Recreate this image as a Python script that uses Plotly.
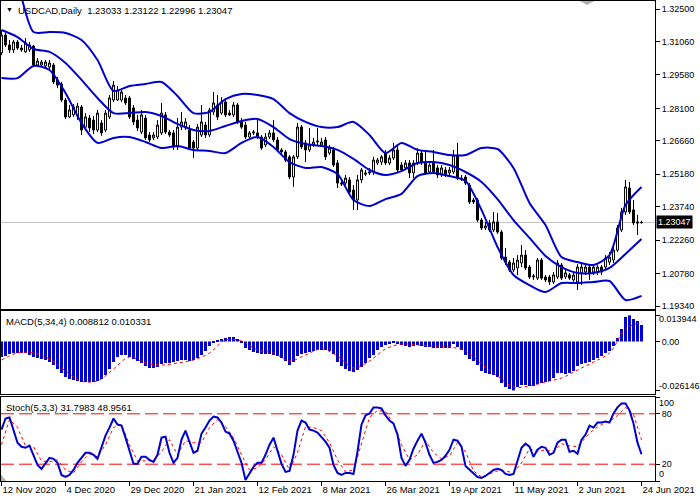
import plotly.graph_objects as go

# ---------------- data ----------------
title_text = "USDCAD,Daily  1.23033 1.23122 1.22996 1.23047"
macd_label = "MACD(5,34,4) 0.008812 0.010331"
stoch_label = "Stoch(5,3,3) 31.7983 48.9561"
last_price = 1.23047

date_labels = ["12 Nov 2020", "4 Dec 2020", "29 Dec 2020", "21 Jan 2021", "12 Feb 2021",
               "8 Mar 2021", "26 Mar 2021", "19 Apr 2021", "11 May 2021", "2 Jun 2021", "24 Jun 2021"]
date_label_bars = [0, 16, 32, 48, 64, 80, 96, 112, 128, 144, 160]

price_ticks = [1.3250, 1.3106, 1.2958, 1.2810, 1.2666, 1.2518, 1.2374, 1.2226, 1.2078, 1.1934]
macd_ticks = [0.013944, 0.0, -0.026146]
stoch_ticks = [100, 80, 20, 0]

opens = [1.3056, 1.3135, 1.3091, 1.3069, 1.3104, 1.3077, 1.3060, 1.3069, 1.3086, 1.3002,
         1.3002, 1.2998, 1.2993, 1.3002, 1.2936, 1.2918, 1.2847, 1.2772, 1.2781, 1.2776,
         1.2816, 1.2727, 1.2767, 1.2758, 1.2714, 1.2745, 1.2714, 1.2772, 1.2847, 1.2847,
         1.2847, 1.2856, 1.2856, 1.2812, 1.2758, 1.2705, 1.2767, 1.2692, 1.2679, 1.2683,
         1.2701, 1.2781, 1.2705, 1.2701, 1.2639, 1.2727, 1.2723, 1.2714, 1.2661, 1.2634,
         1.2692, 1.2736, 1.2692, 1.2794, 1.2825, 1.2789, 1.2838, 1.2789, 1.2781, 1.2825,
         1.2750, 1.2736, 1.2683, 1.2701, 1.2701, 1.2683, 1.2648, 1.2683, 1.2701, 1.2670,
         1.2626, 1.2617, 1.2595, 1.2506, 1.2595, 1.2727, 1.2657, 1.2626, 1.2648, 1.2661,
         1.2648, 1.2670, 1.2612, 1.2626, 1.2568, 1.2479, 1.2479, 1.2493, 1.2448, 1.2404,
         1.2493, 1.2524, 1.2524, 1.2528, 1.2568, 1.2572, 1.2612, 1.2568, 1.2590, 1.2626,
         1.2559, 1.2546, 1.2568, 1.2524, 1.2568, 1.2612, 1.2568, 1.2528, 1.2568, 1.2546,
         1.2515, 1.2537, 1.2524, 1.2528, 1.2603, 1.2501, 1.2506, 1.2470, 1.2404, 1.2404,
         1.2315, 1.2280, 1.2302, 1.2271, 1.2307, 1.2262, 1.2151, 1.2129, 1.2094, 1.2103,
         1.2125, 1.2160, 1.2107, 1.2063, 1.2058, 1.2138, 1.2063, 1.2063, 1.2041, 1.2063,
         1.2116, 1.2063, 1.2072, 1.2050, 1.2041, 1.2081, 1.2085, 1.2107, 1.2085, 1.2085,
         1.2107, 1.2107, 1.2129, 1.2138, 1.2182, 1.2271, 1.2351, 1.2457, 1.2360, 1.2307,
         1.23033]
closes = [1.3135, 1.3091, 1.3069, 1.3104, 1.3077, 1.3069, 1.3100, 1.3091, 1.3002, 1.3020,
          1.3015, 1.3015, 1.3011, 1.2927, 1.2913, 1.2847, 1.2772, 1.2803, 1.2816, 1.2820,
          1.2714, 1.2772, 1.2723, 1.2714, 1.2789, 1.2701, 1.2789, 1.2856, 1.2913, 1.2891,
          1.2882, 1.2834, 1.2772, 1.2750, 1.2723, 1.2781, 1.2679, 1.2670, 1.2692, 1.2736,
          1.2789, 1.2705, 1.2692, 1.2639, 1.2727, 1.2750, 1.2750, 1.2634, 1.2634, 1.2727,
          1.2750, 1.2692, 1.2803, 1.2834, 1.2772, 1.2838, 1.2781, 1.2781, 1.2825, 1.2750,
          1.2727, 1.2683, 1.2701, 1.2705, 1.2683, 1.2634, 1.2683, 1.2701, 1.2670, 1.2626,
          1.2617, 1.2581, 1.2506, 1.2595, 1.2727, 1.2639, 1.2626, 1.2648, 1.2661, 1.2665,
          1.2661, 1.2595, 1.2634, 1.2559, 1.2479, 1.2475, 1.2501, 1.2439, 1.2404, 1.2493,
          1.2537, 1.2519, 1.2528, 1.2581, 1.2581, 1.2595, 1.2568, 1.2590, 1.2626, 1.2537,
          1.2537, 1.2568, 1.2524, 1.2568, 1.2612, 1.2568, 1.2524, 1.2559, 1.2528, 1.2515,
          1.2546, 1.2515, 1.2537, 1.2603, 1.2501, 1.2497, 1.2479, 1.2395, 1.2395, 1.2315,
          1.2280, 1.2289, 1.2271, 1.2307, 1.2262, 1.2147, 1.2129, 1.2094, 1.2125, 1.2138,
          1.2160, 1.2103, 1.2063, 1.2067, 1.2138, 1.2058, 1.2050, 1.2041, 1.2072, 1.2125,
          1.2058, 1.2081, 1.2058, 1.2072, 1.2107, 1.2107, 1.2107, 1.2081, 1.2107, 1.2107,
          1.2085, 1.2147, 1.2151, 1.2182, 1.2280, 1.2351, 1.2462, 1.2351, 1.2302, 1.2302,
          1.23047]
highs = [1.3157, 1.3144, 1.3113, 1.3113, 1.3113, 1.3091, 1.3122, 1.3104, 1.3091, 1.3033,
         1.3024, 1.3024, 1.3024, 1.3011, 1.2949, 1.2927, 1.2856, 1.2825, 1.2829, 1.2834,
         1.2825, 1.2789, 1.2781, 1.2776, 1.2803, 1.2758, 1.2803, 1.2869, 1.2931, 1.2909,
         1.2900, 1.2869, 1.2865, 1.2825, 1.2781, 1.2803, 1.2781, 1.2705, 1.2705, 1.2758,
         1.2834, 1.2794, 1.2714, 1.2714, 1.2767, 1.2794, 1.2767, 1.2736, 1.2670, 1.2741,
         1.2825, 1.2750, 1.2812, 1.2882, 1.2869, 1.2860, 1.2847, 1.2803, 1.2838, 1.2834,
         1.2767, 1.2750, 1.2710, 1.2714, 1.2767, 1.2692, 1.2701, 1.2714, 1.2758, 1.2683,
         1.2634, 1.2626, 1.2603, 1.2603, 1.2745, 1.2736, 1.2670, 1.2723, 1.2679, 1.2723,
         1.2679, 1.2683, 1.2648, 1.2639, 1.2581, 1.2493, 1.2515, 1.2506, 1.2470, 1.2515,
         1.2546, 1.2537, 1.2546, 1.2595, 1.2590, 1.2603, 1.2626, 1.2603, 1.2657, 1.2648,
         1.2572, 1.2581, 1.2581, 1.2581, 1.2634, 1.2626, 1.2626, 1.2572, 1.2626, 1.2559,
         1.2559, 1.2550, 1.2550, 1.2626, 1.2657, 1.2515, 1.2515, 1.2479, 1.2413, 1.2413,
         1.2324, 1.2307, 1.2315, 1.2351, 1.2346, 1.2271, 1.2191, 1.2138, 1.2147, 1.2160,
         1.2205, 1.2182, 1.2116, 1.2076, 1.2147, 1.2147, 1.2072, 1.2072, 1.2085, 1.2138,
         1.2125, 1.2094, 1.2081, 1.2085, 1.2120, 1.2125, 1.2116, 1.2116, 1.2116, 1.2116,
         1.2116, 1.2160, 1.2174, 1.2205, 1.2293, 1.2369, 1.2493, 1.2484, 1.2404, 1.2338,
         1.23122]
lows = [1.3046, 1.3082, 1.3056, 1.3056, 1.3069, 1.3060, 1.3056, 1.3060, 1.2993, 1.2998,
        1.2993, 1.2989, 1.2980, 1.2918, 1.2900, 1.2838, 1.2763, 1.2767, 1.2772, 1.2758,
        1.2692, 1.2714, 1.2705, 1.2696, 1.2705, 1.2688, 1.2705, 1.2763, 1.2838, 1.2843,
        1.2838, 1.2825, 1.2763, 1.2736, 1.2710, 1.2696, 1.2670, 1.2661, 1.2670, 1.2674,
        1.2692, 1.2696, 1.2683, 1.2626, 1.2626, 1.2714, 1.2714, 1.2626, 1.2590, 1.2626,
        1.2683, 1.2679, 1.2683, 1.2781, 1.2758, 1.2781, 1.2772, 1.2776, 1.2772, 1.2741,
        1.2719, 1.2674, 1.2679, 1.2692, 1.2674, 1.2626, 1.2639, 1.2674, 1.2661, 1.2617,
        1.2603, 1.2572, 1.2497, 1.2462, 1.2586, 1.2630, 1.2572, 1.2617, 1.2639, 1.2648,
        1.2639, 1.2581, 1.2603, 1.2550, 1.2457, 1.2466, 1.2470, 1.2426, 1.2360, 1.2360,
        1.2479, 1.2510, 1.2515, 1.2515, 1.2559, 1.2559, 1.2559, 1.2559, 1.2581, 1.2528,
        1.2528, 1.2537, 1.2501, 1.2501, 1.2559, 1.2559, 1.2515, 1.2519, 1.2519, 1.2501,
        1.2506, 1.2506, 1.2510, 1.2519, 1.2493, 1.2488, 1.2470, 1.2386, 1.2386, 1.2307,
        1.2271, 1.2271, 1.2262, 1.2262, 1.2253, 1.2138, 1.2116, 1.2085, 1.2085, 1.2072,
        1.2107, 1.2094, 1.2054, 1.2050, 1.2050, 1.2050, 1.2041, 1.2027, 1.2032, 1.2054,
        1.2050, 1.2054, 1.2050, 1.2041, 1.2005, 1.2027, 1.2072, 1.2050, 1.2072, 1.2072,
        1.2072, 1.2094, 1.2116, 1.2125, 1.2174, 1.2262, 1.2338, 1.2342, 1.2293, 1.2249,
        1.22996]

# Bollinger bands, read every 4th bar
bb_upper = [1.3560, 1.3368, 1.3148, 1.3148, 1.3144, 1.3113, 1.3024, 1.2887, 1.2909, 1.2918,
            1.2927, 1.2865, 1.2789, 1.2794, 1.2851, 1.2874, 1.2869, 1.2851, 1.2789, 1.2750,
            1.2727, 1.2727, 1.2750, 1.2692, 1.2612, 1.2657, 1.2626, 1.2617, 1.2603, 1.2603,
            1.2634, 1.2630, 1.2546, 1.2391, 1.2293, 1.2151, 1.2129, 1.2116, 1.2160, 1.2382,
            1.2462]
bb_middle = [1.3157, 1.3126, 1.3073, 1.3060, 1.3011, 1.2936, 1.2856, 1.2789, 1.2789, 1.2794,
             1.2776, 1.2741, 1.2714, 1.2710, 1.2732, 1.2754, 1.2763, 1.2727, 1.2674, 1.2652,
             1.2643, 1.2626, 1.2586, 1.2537, 1.2515, 1.2532, 1.2568, 1.2572, 1.2559, 1.2528,
             1.2484, 1.2408, 1.2315, 1.2236, 1.2156, 1.2107, 1.2081, 1.2081, 1.2103, 1.2165,
             1.2231]
bb_lower = [1.2944, 1.2944, 1.2998, 1.2980, 1.2878, 1.2745, 1.2657, 1.2679, 1.2683, 1.2661,
            1.2634, 1.2643, 1.2626, 1.2621, 1.2612, 1.2657, 1.2683, 1.2639, 1.2572, 1.2546,
            1.2550, 1.2519, 1.2404, 1.2377, 1.2408, 1.2431, 1.2510, 1.2524, 1.2510, 1.2488,
            1.2360, 1.2196, 1.2072, 1.2027, 1.1996, 1.2036, 1.2036, 1.2041, 1.2045, 1.1961,
            1.1979]

macd_main = [-0.00828, -0.00774, -0.00668, -0.00614, -0.00614, -0.00614, -0.00614, -0.00721, -0.00828, -0.00881,
             -0.00935, -0.00988, -0.01095, -0.01255, -0.01469, -0.01682, -0.01896, -0.02003, -0.02056, -0.02109,
             -0.02163, -0.02163, -0.02163, -0.02163, -0.02109, -0.02003, -0.01789, -0.01469, -0.01095, -0.00828,
             -0.00721, -0.00721, -0.00828, -0.00935, -0.01041, -0.01148, -0.01308, -0.01415, -0.01415, -0.01362,
             -0.01202, -0.01148, -0.01148, -0.01095, -0.01041, -0.00988, -0.00988, -0.01041, -0.00988, -0.00881,
             -0.00721, -0.00507, -0.00240, -0.00027, 0.00080, 0.00134, 0.00187, 0.00240, 0.00240, 0.00134,
             -0.00080, -0.00347, -0.00454, -0.00561, -0.00614, -0.00668, -0.00668, -0.00668, -0.00721, -0.00774,
             -0.00881, -0.01041, -0.01255, -0.01095, -0.00774, -0.00668, -0.00614, -0.00561, -0.00507, -0.00454,
             -0.00454, -0.00454, -0.00507, -0.00668, -0.01095, -0.01308, -0.01469, -0.01575, -0.01629, -0.01522,
             -0.01362, -0.01148, -0.00881, -0.00721, -0.00454, -0.00294, -0.00187, -0.00134, -0.00080, -0.00134,
             -0.00187, -0.00240, -0.00294, -0.00240, -0.00187, -0.00240, -0.00294, -0.00294, -0.00347, -0.00347,
             -0.00347, -0.00347, -0.00347, -0.00134, -0.00294, -0.00454, -0.00721, -0.00935, -0.01041, -0.01255,
             -0.01575, -0.01682, -0.01736, -0.01789, -0.01896, -0.02216, -0.02430, -0.02537, -0.026146, -0.02430,
             -0.02323, -0.02323, -0.02376, -0.02376, -0.02270, -0.02216, -0.02163, -0.02109, -0.01949, -0.01682,
             -0.01682, -0.01736, -0.01682, -0.01575, -0.01308, -0.01202, -0.01148, -0.01095, -0.00988, -0.00881,
             -0.00774, -0.00614, -0.00507, -0.00240, 0.00187, 0.00668, 0.01308, 0.013944, 0.01202, 0.01095,
             0.008812]
# MACD signal, read every 4th bar
macd_signal = [-0.00988, -0.00614, -0.00614, -0.00935, -0.01575, -0.02109, -0.02109, -0.01469, -0.00828, -0.01148,
               -0.01255, -0.01148, -0.00988, -0.00614, 0.00080, 0.00027, -0.00454, -0.00614, -0.01041, -0.00721,
               -0.00400, -0.00774, -0.01415, -0.01041, -0.00400, -0.00134, -0.00187, -0.00240, -0.00294, -0.00507,
               -0.01202, -0.01843, -0.02430, -0.02376, -0.02163, -0.01949, -0.01522, -0.01095, -0.00614, 0.00668,
               0.010331]

stoch_main = [61.2, 74.4, 75.6, 61.2, 45.6, 40.8, 39.6, 42.0, 31.2, 19.2,
              14.4, 20.4, 27.6, 26.4, 21.6, 7.2, 4.8, 7.2, 13.2, 21.6,
              27.6, 33.6, 33.6, 31.2, 26.4, 39.6, 54.0, 63.6, 74.4, 67.2,
              66.0, 51.6, 34.8, 20.4, 20.4, 28.8, 28.8, 25.2, 22.8, 31.2,
              51.6, 52.8, 33.6, 21.6, 27.6, 49.2, 60.0, 46.8, 33.6, 36.0,
              56.4, 63.6, 72.0, 76.8, 75.6, 69.6, 58.8, 56.4, 48.0, 34.8,
              21.6, 1.2, 9.6, 16.8, 21.6, 21.6, 31.2, 43.2, 51.6, 37.2,
              20.4, 10.8, 12.0, 31.2, 60.0, 72.0, 69.6, 61.2, 60.0, 57.6,
              52.8, 46.8, 39.6, 19.2, 9.6, 7.2, 9.6, 9.6, 8.4, 34.8,
              67.2, 78.0, 80.4, 87.6, 87.6, 86.4, 78.0, 72.0, 68.4, 55.2,
              27.6, 18.0, 25.2, 38.4, 48.0, 56.4, 45.6, 31.2, 21.6, 22.8,
              25.2, 30.0, 37.2, 49.2, 48.0, 40.8, 18.0, 13.2, 8.4, 4.8,
              3.6, 6.0, 9.6, 13.2, 14.4, 13.2, 8.4, 7.2, 8.4, 25.2,
              39.6, 44.4, 40.8, 28.8, 37.2, 40.8, 39.6, 31.2, 33.6, 45.6,
              49.2, 49.2, 34.8, 36.0, 32.4, 49.2, 55.2, 66.0, 63.6, 69.6,
              69.6, 70.8, 69.6, 80.4, 87.6, 92.4, 92.4, 84.0, 68.4, 45.6,
              31.7983]
# Stoch signal, read every 2nd bar
stoch_signal = [43.2, 73.2, 63.6, 42.0, 40.8, 24.0, 22.8, 25.2, 13.2, 9.6,
                22.8, 32.4, 28.8, 43.2, 63.6, 67.2, 43.2, 24.0, 24.0, 24.0,
                34.8, 49.2, 31.2, 48.0, 45.6, 45.6, 63.6, 73.2, 64.8, 51.6,
                31.2, 13.2, 15.6, 25.2, 40.8, 31.2, 13.2, 33.6, 64.8, 63.6,
                60.0, 45.6, 25.2, 10.8, 13.2, 43.2, 75.6, 84.0, 82.8, 68.4,
                43.2, 25.2, 31.2, 48.0, 33.6, 26.4, 30.0, 45.6, 34.8, 12.0,
                4.8, 8.4, 12.0, 12.0, 9.6, 21.6, 38.4, 34.8, 37.2, 34.8,
                44.4, 42.0, 40.8, 51.6, 61.2, 67.2, 70.8, 78.0, 87.6, 79.2,
                48.9561]
stoch_levels = [80, 20]

# ---------------- figure ----------------
BLUE = "#0000cd"
RED = "#ff0000"
FONT = "Liberation Sans"
FS = 9
bars = list(range(len(closes)))
bb_x = [4 * k for k in range(len(bb_upper))]
sig_x = [4 * k for k in range(len(macd_signal))]
ssig_x = [2 * k for k in range(len(stoch_signal))]
XR = [-0.125, 163.375]

fig = go.Figure()
for band in (bb_upper, bb_middle, bb_lower):
    fig.add_trace(go.Scatter(x=bb_x, y=band, mode="lines", xaxis="x", yaxis="y",
                             line=dict(color=BLUE, width=2, shape="spline", smoothing=0.7),
                             hoverinfo="skip", showlegend=False))
fig.add_trace(go.Candlestick(x=bars, open=opens, high=highs, low=lows, close=closes,
                             xaxis="x", yaxis="y", whiskerwidth=0,
                             increasing=dict(line=dict(color="black", width=1), fillcolor="white"),
                             decreasing=dict(line=dict(color="black", width=1), fillcolor="black"),
                             showlegend=False))
fig.add_trace(go.Bar(x=bars, y=macd_main, xaxis="x2", yaxis="y2", marker=dict(color=BLUE, line=dict(width=0)),
                     showlegend=False))
fig.add_trace(go.Scatter(x=sig_x, y=macd_signal, mode="lines", xaxis="x2", yaxis="y2",
                         line=dict(color=RED, width=1, dash="dot", shape="spline"), showlegend=False))
for lv in stoch_levels:
    fig.add_trace(go.Scatter(x=[XR[0], XR[1]], y=[lv, lv], mode="lines", xaxis="x3", yaxis="y3",
                             line=dict(color=RED, width=1, dash="13px,5px"), showlegend=False, hoverinfo="skip"))
fig.add_trace(go.Scatter(x=ssig_x, y=stoch_signal, mode="lines", xaxis="x3", yaxis="y3",
                         line=dict(color=RED, width=1, dash="dot"), showlegend=False))
fig.add_trace(go.Scatter(x=bars, y=stoch_main, mode="lines", xaxis="x3", yaxis="y3",
                         line=dict(color=BLUE, width=2), showlegend=False))

axis_common = dict(showline=True, mirror=True, linecolor="black", linewidth=1, showgrid=False,
                   zeroline=False, fixedrange=True)
xcommon = dict(axis_common, range=XR, showticklabels=False, ticks="")
ycommon = dict(axis_common, side="right", ticks="outside", ticklen=4, tickcolor="black",
               tickfont=dict(family=FONT, size=FS, color="black"))

fig.update_layout(
    width=700, height=500,
    margin=dict(l=1, r=45, t=1, b=19),
    paper_bgcolor="white", plot_bgcolor="white",
    bargap=0.25,
    xaxis=dict(xcommon, domain=[0, 1], anchor="y", rangeslider=dict(visible=False)),
    xaxis2=dict(xcommon, domain=[0, 1], anchor="y2", matches="x"),
    xaxis3=dict(axis_common, domain=[0, 1], anchor="y3", range=XR, matches="x",
                tickvals=date_label_bars, ticktext=date_labels, ticks="outside", ticklen=4,
                tickcolor="black", ticklabelposition="outside right",
                tickfont=dict(family=FONT, size=9.5, color="black")),
    yaxis=dict(ycommon, domain=[0.35833, 1.0], range=[1.19211, 1.32856],
               tickvals=price_ticks, ticktext=["%.5f" % v for v in price_ticks]),
    yaxis2=dict(ycommon, domain=[0.18125, 0.35417], range=[-0.028035, 0.016287],
                tickvals=macd_ticks, ticktext=["", "0.00", ""]),
    yaxis3=dict(ycommon, domain=[0, 0.175], range=[0, 100],
                tickvals=stoch_ticks, ticktext=["", "80", "20", ""]),
    showlegend=False,
)

# current price line and label
fig.add_shape(type="line", xref="x domain", yref="y", x0=0, x1=1, y0=last_price, y1=last_price,
              line=dict(color="#c0c0c0", width=1), layer="below")
fig.add_annotation(xref="paper", yref="y", x=1, y=last_price, xanchor="left", yanchor="middle",
                   xshift=1, text="%.5f" % last_price, showarrow=False, bgcolor="black",
                   borderpad=1, font=dict(family=FONT, size=FS, color="white"))

# edge labels of the indicator scales (kept inside their panels as in the reference)
edge_labels = [("y2", macd_ticks[0], "%.6f" % macd_ticks[0], -4),
               ("y2", macd_ticks[2], "%.6f" % macd_ticks[2], 4),
               ("y3", stoch_ticks[0], "%d" % stoch_ticks[0], -6),
               ("y3", stoch_ticks[3], "%d" % stoch_ticks[3], 7)]
for yr, val, txt, ys in edge_labels:
    fig.add_annotation(xref="paper", yref=yr, x=1, y=val, xanchor="left", yanchor="middle",
                       xshift=2, yshift=ys, text=txt, showarrow=False,
                       font=dict(family=FONT, size=FS, color="black"))

# panel titles
fig.add_annotation(xref="paper", yref="paper", x=0, y=1, xanchor="left", yanchor="top",
                   xshift=15, yshift=-2, text=title_text, showarrow=False,
                   font=dict(family=FONT, size=9.5, color="black"))
fig.add_annotation(xref="paper", yref="paper", x=0, y=1, xanchor="left", yanchor="top",
                   xshift=3, yshift=-3, text="▼", showarrow=False,
                   font=dict(family=FONT, size=7, color="black"))
fig.add_annotation(xref="paper", yref="paper", x=0, y=0.35417, xanchor="left", yanchor="top",
                   xshift=3, yshift=-3, text=macd_label, showarrow=False,
                   font=dict(family=FONT, size=9.5, color="black"))
fig.add_annotation(xref="paper", yref="paper", x=0, y=0.175, xanchor="left", yanchor="top",
                   xshift=3, yshift=-3, text=stoch_label, showarrow=False,
                   font=dict(family=FONT, size=9.5, color="black"))

# chart-shift marker at the top and corner marker at bottom-left
fig.add_shape(type="path", xref="x", yref="y",
              path="M 144.6 1.32856 L 148.2 1.32856 L 146.4 1.3268 Z",
              fillcolor="#b0b0b0", line=dict(width=0))
fig.add_shape(type="path", xref="x", yref="y3",
              path="M -0.125 0 L 1.2 0 L -0.125 8 Z",
              fillcolor="#b0b0b0", line=dict(width=0))

fig.write_html("out.html", config={"displayModeBar": False},
               post_script="document.body.style.margin='0px';")
